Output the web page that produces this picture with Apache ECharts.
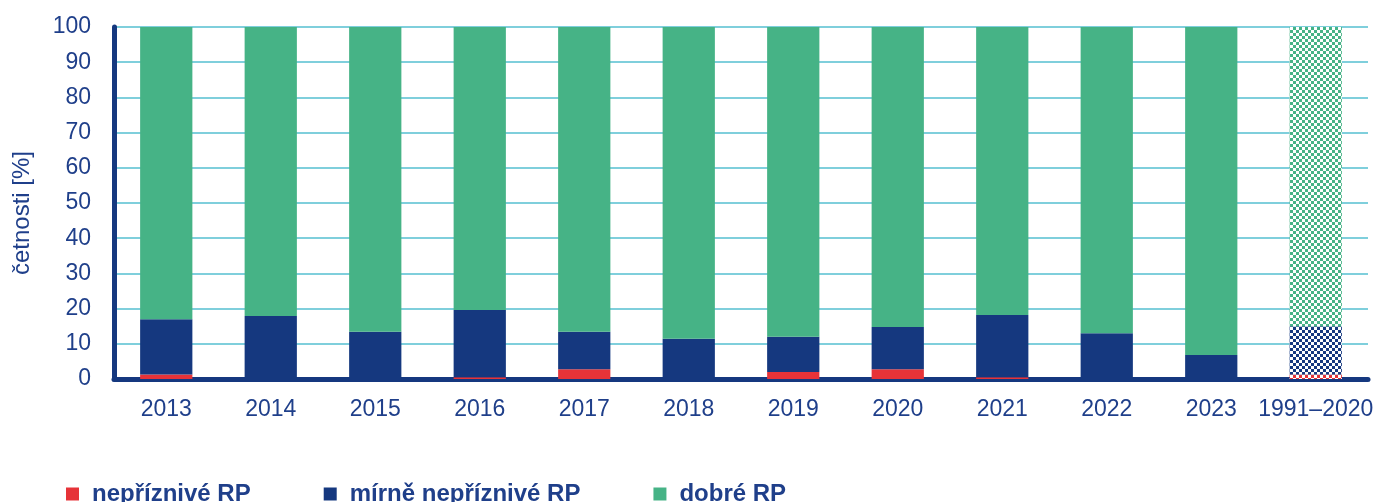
<!DOCTYPE html>
<html>
<head>
<meta charset="utf-8">
<style>
  html, body { margin: 0; padding: 0; background: #fff; }
  #chart { width: 1387px; height: 502px; }
</style>
</head>
<body>
<div id="chart"></div>
<script src="https://cdn.jsdelivr.net/npm/echarts@6/dist/echarts.min.js"></script>
<script type="text/javascript">
    var years = ['2013','2014','2015','2016','2017','2018','2019','2020','2021','2022','2023','1991–2020'];
    var nepriznive = [1.3, 0, 0, 0.5, 2.8, 0, 2, 2.8, 0.5, 0, 0, 1.3];
    var mirne = [15.7, 17.9, 13.4, 19.1, 10.6, 11.4, 10, 12, 17.7, 13, 6.8, 13.7];
    var dobre = [83, 82.1, 86.6, 80.4, 86.6, 88.6, 88, 85.2, 81.8, 87, 93.2, 85];
    var yTicks = [0, 10, 20, 30, 40, 50, 60, 70, 80, 90, 100];

    var textCol = '#1f3f8a';
    var navy = '#15387f';
    var font = 'Liberation Sans, Arial, sans-serif';

    // posledni sloupec (normal 1991-2020) je srafovany
    function withDecal(arr) {
        return arr.map(function (v, i) {
            if (i !== arr.length - 1) return v;
            return {
                value: v,
                itemStyle: {
                    decal: {
                        symbol: 'rect',
                        symbolSize: 1,
                        color: '#ffffff',
                        dashArrayX: [[3, 3], [0, 3, 3, 0]],
                        dashArrayY: [3, 0],
                        rotation: 0
                    }
                }
            };
        });
    }

    var chart = echarts.init(document.getElementById('chart'));
    var option = {
        animation: false,
        grid: { left: 114, right: 19, top: 27, bottom: 123 },
        legend: {
            left: 61,
            top: 477,
            itemWidth: 13,
            itemHeight: 13,
            itemGap: 73,
            icon: 'rect',
            textStyle: { color: textCol, fontSize: 24, fontWeight: 'bold', fontFamily: font, padding: [0, 0, 0, 8] },
            data: ['nepříznivé RP', 'mírně nepříznivé RP', 'dobré RP']
        },
        xAxis: {
            type: 'category',
            data: years,
            axisTick: { show: false },
            axisLine: { lineStyle: { color: navy, width: 5, cap: 'round' } },
            axisLabel: { color: textCol, fontSize: 23, fontFamily: font, margin: 19, interval: 0 }
        },
        yAxis: {
            type: 'value',
            min: yTicks[0],
            max: yTicks[yTicks.length - 1],
            interval: 10,
            name: 'četnosti [%]',
            nameLocation: 'middle',
            nameGap: 80,
            nameTextStyle: { color: textCol, fontSize: 24, fontFamily: font, padding: [0, 20, 0, 0] },
            axisLine: { show: true, lineStyle: { color: navy, width: 5, cap: 'round' } },
            axisTick: { show: false },
            axisLabel: { color: textCol, fontSize: 23, fontFamily: font, margin: 23 },
            splitLine: { lineStyle: { color: '#7fcfdc', width: 2 } }
        },
        series: [
            { name: 'nepříznivé RP', type: 'bar', stack: 'rp', barWidth: '50%', data: withDecal(nepriznive), itemStyle: { color: '#e63338' } },
            { name: 'mírně nepříznivé RP', type: 'bar', stack: 'rp', data: withDecal(mirne), itemStyle: { color: navy } },
            { name: 'dobré RP', type: 'bar', stack: 'rp', data: withDecal(dobre), itemStyle: { color: '#46b386' } }
        ]
    };
    chart.setOption(option);
</script>
</body>
</html>
